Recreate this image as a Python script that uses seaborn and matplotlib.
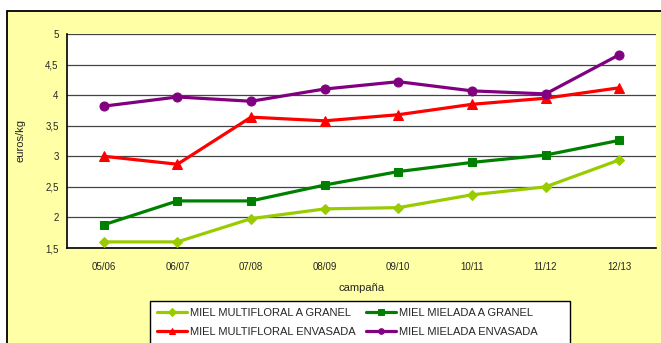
import matplotlib
matplotlib.use("Agg")
import matplotlib.pyplot as plt
from matplotlib.patches import Rectangle
import seaborn as sns
import pandas as pd

# Datos (euros/kg por campaña)
campanas = ["05/06", "06/07", "07/08", "08/09", "09/10", "10/11", "11/12", "12/13"]
mf_granel = [1.60, 1.60, 1.98, 2.14, 2.16, 2.37, 2.50, 2.94]
mm_granel = [1.88, 2.27, 2.27, 2.53, 2.75, 2.90, 3.02, 3.26]
mf_envasada = [3.00, 2.87, 3.64, 3.58, 3.68, 3.85, 3.95, 4.12]
mm_envasada = [3.82, 3.97, 3.90, 4.10, 4.22, 4.07, 4.02, 4.66]
yticks = [1.5, 2, 2.5, 3, 3.5, 4, 4.5, 5]
ytick_labels = ["1,5", "2", "2,5", "3", "3,5", "4", "4,5", "5"]

series = [
    ("MIEL MULTIFLORAL A GRANEL", mf_granel, "#99CC00", "D", 5),
    ("MIEL MULTIFLORAL ENVASADA", mf_envasada, "#FF0000", "^", 6.5),
    ("MIEL MIELADA A GRANEL", mm_granel, "#008000", "s", 6),
    ("MIEL MIELADA ENVASADA", mm_envasada, "#800080", "o", 6.5),
]

sns.set_style("white")
plt.rcParams["font.family"] = ["Liberation Sans", "DejaVu Sans"]

fig = plt.figure(figsize=(6.61, 3.43), dpi=100)
fig.patch.set_facecolor("white")
# fondo amarillo del gráfico
fig.patches.append(Rectangle((7 / 661, -0.01), 1.0, 1 - 11 / 343 + 0.01,
                             transform=fig.transFigure, facecolor="#FFFFA6",
                             edgecolor="black", linewidth=1.3, zorder=-5))
# marco de la leyenda
fig.patches.append(Rectangle((150 / 661, -0.01), 420 / 661, 1 - 301 / 343 + 0.01,
                             transform=fig.transFigure, facecolor="white",
                             edgecolor="black", linewidth=1.0, zorder=-4))

ax = fig.add_axes([67 / 661, 1 - 248 / 343, (656 - 67) / 661, (248 - 34) / 343])
ax.set_zorder(1)
ax.set_facecolor("white")

x = list(range(len(campanas)))
for name, vals, color, marker, ms in series:
    df = pd.DataFrame({"campaña": x, "valor": vals})
    sns.lineplot(data=df, x="campaña", y="valor", ax=ax, color=color,
                 linewidth=2.3, marker=marker, markersize=ms,
                 markeredgecolor=color, label=name, zorder=3)

ax.set_xlim(-0.5, len(campanas) - 0.5)
ax.set_ylim(1.5, 5)
ax.set_yticks(yticks)
ax.set_yticklabels(ytick_labels, fontsize=7)
ax.set_xticks(x)
ax.set_xticklabels(campanas, fontsize=7)
ax.set_xticks([i - 0.5 for i in range(len(campanas) + 1)], minor=True)
ax.tick_params(axis="x", which="major", length=0, pad=10)
ax.tick_params(axis="x", which="minor", length=4, width=1, color="black", direction="out")
ax.tick_params(axis="y", which="major", length=4, width=1, color="black", direction="out", pad=2)
ax.grid(axis="y", color="#444444", linewidth=0.9)
ax.set_axisbelow(True)

for s in ["top", "right"]:
    ax.spines[s].set_visible(False)
for s in ["left", "bottom"]:
    ax.spines[s].set_color("black")
    ax.spines[s].set_linewidth(1.2)

ax.set_xlabel("campaña", fontsize=8, labelpad=8)
ax.set_ylabel("euros/kg", fontsize=8, labelpad=14)

handles, labels = ax.get_legend_handles_labels()
ax.legend_.remove()
leg = fig.legend(handles, labels, ncol=2, loc="upper left",
                 bbox_to_anchor=(148 / 661, 1 - 299 / 343), fontsize=8,
                 frameon=False, handlelength=2.7, columnspacing=1.0,
                 handletextpad=0.25, borderpad=0.3, labelspacing=0.8)
for h in leg.legend_handles:
    h.set_markersize(4)
leg.set_zorder(5)

fig.savefig("out.png", dpi=100)
